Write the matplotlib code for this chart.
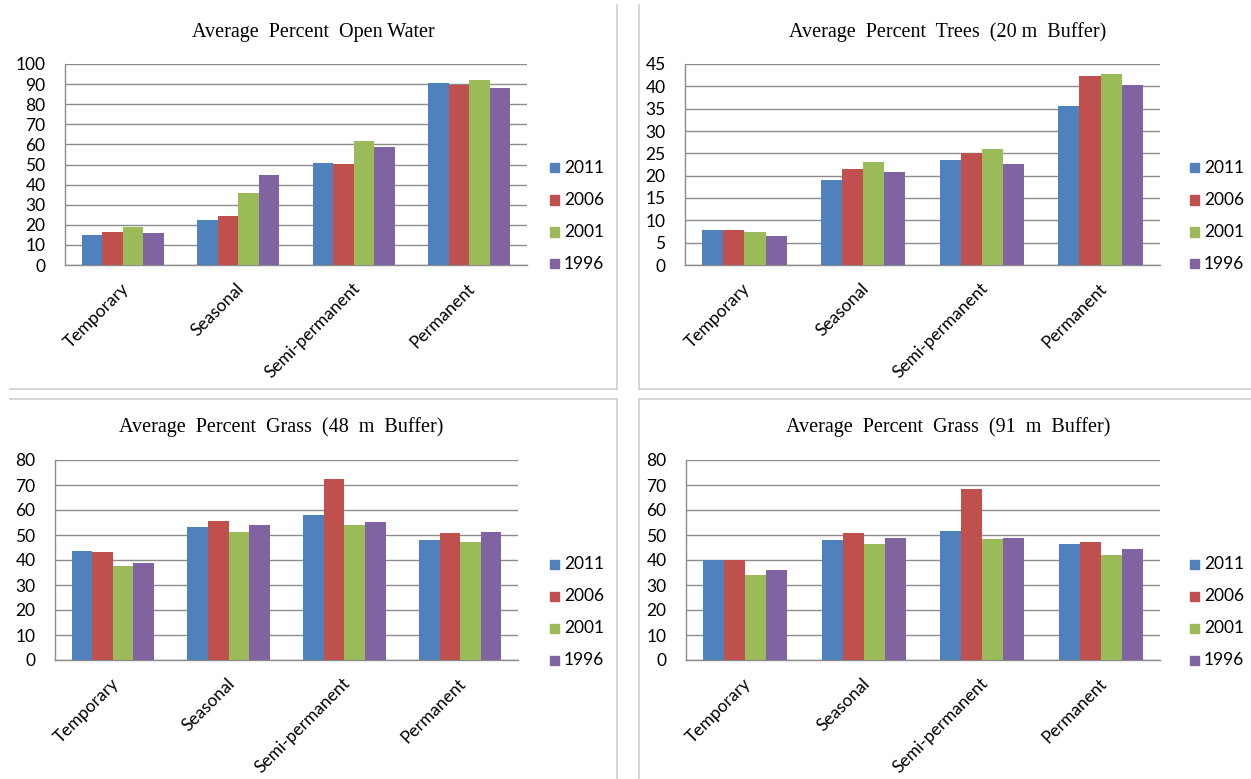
import matplotlib.pyplot as plt
import numpy as np
from matplotlib.lines import Line2D

W, H = 1251, 779

categories = ["Temporary", "Seasonal", "Semi-permanent", "Permanent"]
years = ["2011", "2006", "2001", "1996"]
colors = ["#4F81BD", "#C0504D", "#9BBB59", "#8064A2"]

# rows: category, columns: year (2011, 2006, 2001, 1996)
open_water = [
    [14.7, 16.3, 18.8, 16.0],
    [22.3, 24.5, 36.0, 45.0],
    [50.5, 50.2, 61.7, 58.7],
    [90.3, 89.8, 92.0, 88.2],
]
trees_20m = [
    [7.9, 7.9, 7.3, 6.6],
    [19.1, 21.6, 23.1, 20.9],
    [23.5, 25.0, 26.0, 22.6],
    [35.6, 42.4, 42.8, 40.4],
]
grass_48m = [
    [43.5, 43.2, 37.7, 38.9],
    [53.1, 55.5, 51.1, 54.2],
    [57.9, 72.6, 54.2, 55.3],
    [48.0, 50.7, 47.4, 51.1],
]
grass_91m = [
    [40.0, 40.0, 34.2, 36.0],
    [48.0, 50.7, 46.6, 49.0],
    [51.8, 68.6, 48.3, 49.0],
    [46.3, 47.4, 41.9, 44.5],
]

# title, data, y max, y step, axes box (px), legend x (px), title centre (px)
panels = [
    ("Average  Percent  Open Water", open_water, 100, 10, (65, 64, 527, 265), 550, (313, 32)),
    ("Average  Percent  Trees  (20 m  Buffer)", trees_20m, 45, 5, (685, 64, 1160, 265), 1190, (948, 32)),
    ("Average  Percent  Grass  (48  m  Buffer)", grass_48m, 80, 10, (55, 460, 518, 660), 550, (281, 427)),
    ("Average  Percent  Grass  (91  m  Buffer)", grass_91m, 80, 10, (686, 460, 1160, 660), 1190, (948, 427)),
]

fig = plt.figure(figsize=(W / 100, H / 100), dpi=100)
fig.patch.set_facecolor("white")

tick_font = "Lato"
title_font = "Liberation Serif"
grid_col = "#8C8C8C"
fs = 12.5

for title, data, ymax, step, (x0, y0, x1, y1), leg_x, (tx, ty) in panels:
    ax = fig.add_axes([x0 / W, 1 - y1 / H, (x1 - x0) / W, (y1 - y0) / H])
    vals = np.array(data)
    x = np.arange(len(categories))
    bw = 0.178
    for j, yr in enumerate(years):
        ax.bar(x + (j - 1.5) * bw, vals[:, j], width=bw, color=colors[j],
               edgecolor="none", zorder=3)
    ax.set_xlim(-0.5, len(categories) - 0.5)
    ax.set_ylim(0, ymax)
    ax.set_yticks(np.arange(0, ymax + step / 2, step))
    ax.yaxis.grid(True, color=grid_col, linewidth=1.0, zorder=0)
    ax.set_axisbelow(True)
    for s in ("top", "right"):
        ax.spines[s].set_visible(False)
    for s in ("left", "bottom"):
        ax.spines[s].set_color(grid_col)
        ax.spines[s].set_linewidth(1.0)
    ax.tick_params(axis="y", length=0, labelsize=fs, pad=14)
    ax.tick_params(axis="x", length=0, pad=11)
    for lab in ax.get_yticklabels():
        lab.set_fontfamily(tick_font)
    ax.set_xticks(x - 0.02)
    ax.set_xticklabels(categories, rotation=45, ha="right", va="top",
                       rotation_mode="anchor", fontfamily=tick_font, fontsize=fs)
    fig.text(tx / W, 1 - ty / H, title, ha="center", va="center",
             fontfamily=title_font, fontsize=14.5)

    # legend entries
    for j, yr in enumerate(years):
        ly = 1 - (y0 + 104 + 32 * j) / H
        fig.patches.append(plt.Rectangle((leg_x / W, ly - 4.5 / H), 9 / W, 9 / H,
                                         transform=fig.transFigure, color=colors[j]))
        fig.text((leg_x + 14) / W, ly, yr, ha="left", va="center",
                 fontfamily=tick_font, fontsize=fs)

# panel borders
border = "#CFCFCF"
segs = [
    ((617, 5), (617, 389)), ((639, 5), (639, 389)),
    ((10, 389), (617, 389)), ((639, 389), (1251, 389)),
    ((10, 399), (617, 399)), ((639, 399), (1251, 399)),
    ((617, 399), (617, 779)), ((639, 399), (639, 779)),
]
for (ax0, ay0), (ax1, ay1) in segs:
    fig.add_artist(Line2D([ax0 / W, ax1 / W], [1 - ay0 / H, 1 - ay1 / H],
                          transform=fig.transFigure, color=border, linewidth=1.2))

fig.savefig("out.png", dpi=100, facecolor="white")
